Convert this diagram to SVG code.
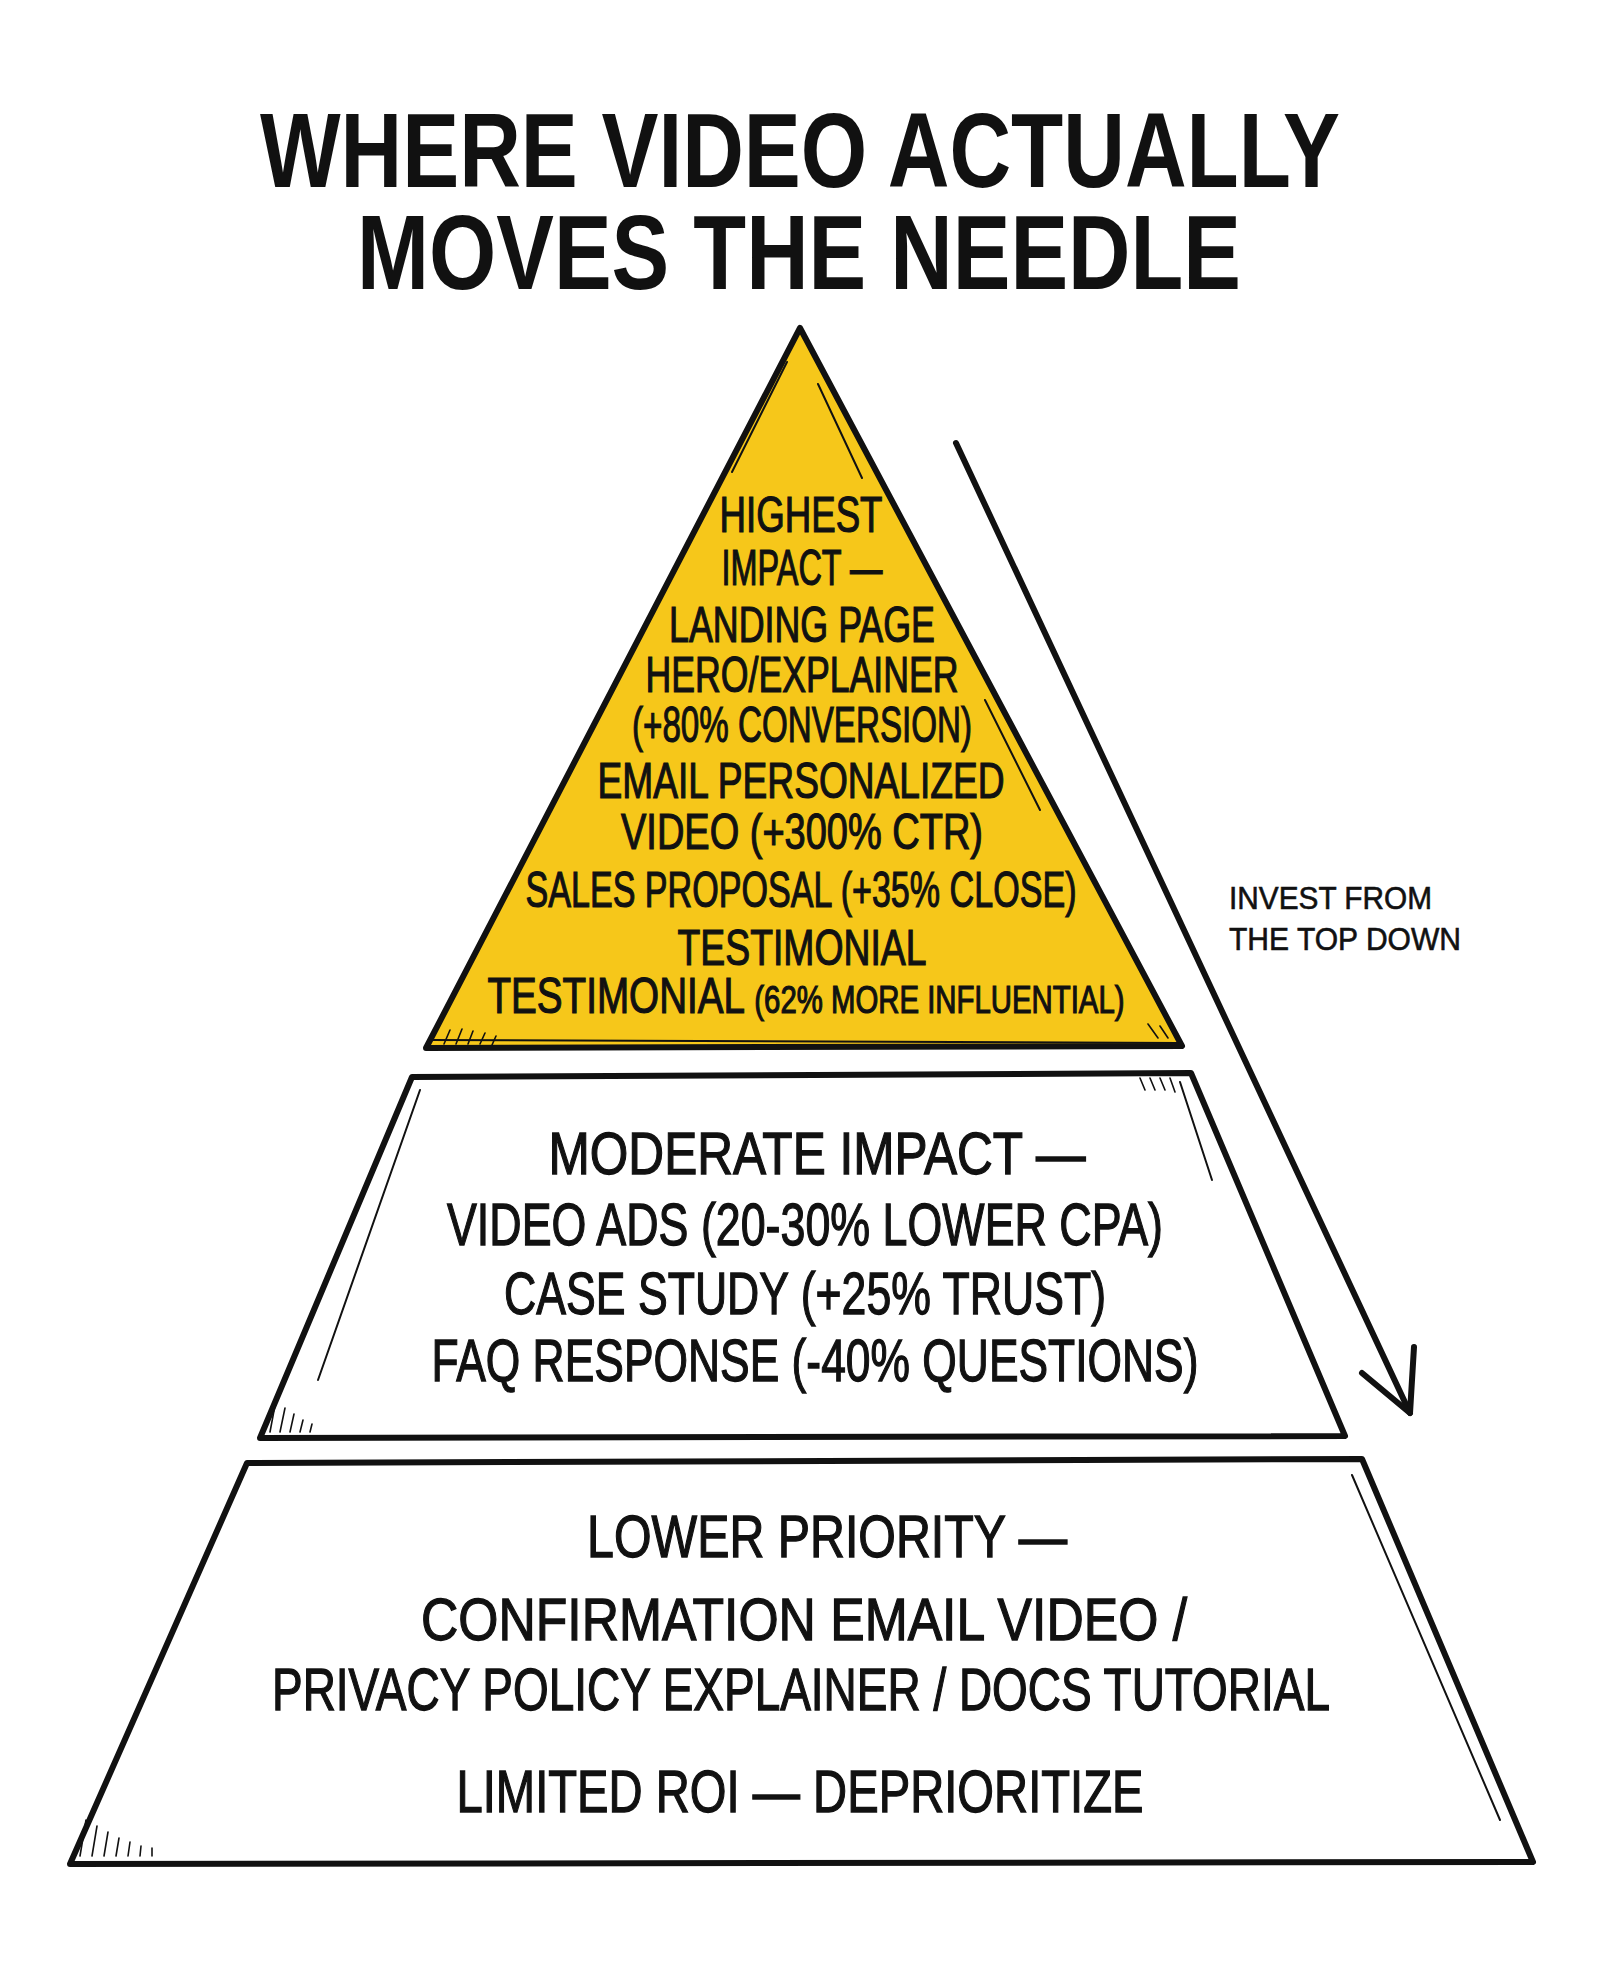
<svg xmlns="http://www.w3.org/2000/svg" width="1600" height="1986" viewBox="0 0 1600 1986">
<style>
.bg{fill:#ffffff}
.title{font-family:"Liberation Sans",Arial,sans-serif;font-weight:700;font-size:106px;fill:#111111;text-anchor:middle}
.t1{font-family:"Liberation Sans",Arial,sans-serif;font-size:50px;fill:#111111;stroke:#111111;stroke-width:1.2;text-anchor:middle}
.t2{font-family:"Liberation Sans",Arial,sans-serif;font-size:60px;fill:#111111;stroke:#111111;stroke-width:1.3;text-anchor:middle}
.note{font-family:"Liberation Sans",Arial,sans-serif;font-size:32px;fill:#111111;stroke:#111111;stroke-width:0.6}
.tier{stroke:#111111;stroke-width:6;stroke-linejoin:round}
.yellow{fill:#F6C71A}
.white{fill:#ffffff}
.thin{fill:none;stroke:#111111;stroke-width:2;stroke-linecap:round}
.hatch{fill:none;stroke:#111111;stroke-width:1.6;stroke-linecap:round}
.arrow{fill:none;stroke:#111111;stroke-width:6;stroke-linecap:round;stroke-linejoin:round}
</style>
<rect class="bg" x="0" y="0" width="1600" height="1986"/>

<g id="title">
<text class="title" x="800" y="187" textLength="1080" lengthAdjust="spacingAndGlyphs">WHERE VIDEO ACTUALLY</text>
<text class="title" x="799" y="289" textLength="884" lengthAdjust="spacingAndGlyphs">MOVES THE NEEDLE</text>
</g>

<g id="tier-top">
<polygon class="tier yellow" points="800,328 1182,1046 426,1048"/>
<path class="thin" d="M787,362 L732,472 M818,384 L862,478 M985,700 L1040,810 M430,1040 L1178,1043"/>
<path class="hatch" d="M444,1044 L450,1030 M456,1044 L462,1029 M468,1044 L473,1031 M480,1044 L485,1033 M492,1045 L496,1036 M1158,1038 L1148,1024 M1168,1038 L1160,1026"/>
<text class="t1" x="801" y="532" textLength="163" lengthAdjust="spacingAndGlyphs">HIGHEST</text>
<text class="t1" x="802" y="585" textLength="161" lengthAdjust="spacingAndGlyphs">IMPACT —</text>
<text class="t1" x="802" y="642" textLength="266" lengthAdjust="spacingAndGlyphs">LANDING PAGE</text>
<text class="t1" x="802" y="692" textLength="313" lengthAdjust="spacingAndGlyphs">HERO/EXPLAINER</text>
<text class="t1" x="802" y="742" textLength="340" lengthAdjust="spacingAndGlyphs">(+80% CONVERSION)</text>
<text class="t1" x="801" y="798" textLength="407" lengthAdjust="spacingAndGlyphs">EMAIL PERSONALIZED</text>
<text class="t1" x="802" y="849" textLength="362" lengthAdjust="spacingAndGlyphs">VIDEO (+300% CTR)</text>
<text class="t1" x="801" y="907" textLength="551" lengthAdjust="spacingAndGlyphs">SALES PROPOSAL (+35% CLOSE)</text>
<text class="t1" x="802" y="965" textLength="249" lengthAdjust="spacingAndGlyphs">TESTIMONIAL</text>
<text class="t1" x="806" y="1013" textLength="637" lengthAdjust="spacingAndGlyphs">TESTIMONIAL <tspan font-size="38">(62% MORE INFLUENTIAL)</tspan></text>
</g>

<g id="tier-middle">
<polygon class="tier white" points="412,1077 1191,1073 1345,1436 260,1438"/>
<path class="thin" d="M420,1090 L318,1380 M1180,1082 L1212,1180"/>
<path class="hatch" d="M1145,1090 L1140,1078 M1155,1090 L1150,1078 M1165,1090 L1160,1078 M1175,1092 L1170,1078 M270,1432 L276,1400 M280,1432 L285,1408 M290,1432 L294,1414 M300,1432 L303,1420 M310,1432 L312,1424"/>
<text class="t2" x="817" y="1174" textLength="537" lengthAdjust="spacingAndGlyphs">MODERATE IMPACT —</text>
<text class="t2" x="805" y="1245" textLength="716" lengthAdjust="spacingAndGlyphs">VIDEO ADS (20-30% LOWER CPA)</text>
<text class="t2" x="805" y="1314" textLength="602" lengthAdjust="spacingAndGlyphs">CASE STUDY (+25% TRUST)</text>
<text class="t2" x="815" y="1381" textLength="767" lengthAdjust="spacingAndGlyphs">FAQ RESPONSE (-40% QUESTIONS)</text>
</g>

<g id="tier-bottom">
<polygon class="tier white" points="247,1463 1362,1459 1533,1862 70,1864"/>
<path class="thin" d="M1352,1475 L1500,1820"/>
<path class="hatch" d="M80,1856 L86,1820 M92,1856 L97,1826 M104,1856 L108,1832 M116,1856 L119,1838 M128,1856 L130,1842 M140,1856 L141,1846 M152,1856 L152,1848"/>
<text class="t2" x="827" y="1557" textLength="480" lengthAdjust="spacingAndGlyphs">LOWER PRIORITY —</text>
<text class="t2" x="804" y="1640" textLength="766" lengthAdjust="spacingAndGlyphs">CONFIRMATION EMAIL VIDEO /</text>
<text class="t2" x="801" y="1710" textLength="1058" lengthAdjust="spacingAndGlyphs">PRIVACY POLICY EXPLAINER / DOCS TUTORIAL</text>
<text class="t2" x="800" y="1812" textLength="687" lengthAdjust="spacingAndGlyphs">LIMITED ROI — DEPRIORITIZE</text>
</g>

<g id="note">
<text class="note" x="1229" y="909" textLength="203" lengthAdjust="spacingAndGlyphs">INVEST FROM</text>
<text class="note" x="1229" y="950" textLength="232" lengthAdjust="spacingAndGlyphs">THE TOP DOWN</text>
</g>

<g id="connectors">
<path class="arrow" d="M956,443 L1410,1413"/>
<path class="arrow" d="M1362,1373 L1410,1413 L1414,1347"/>
</g>
</svg>
